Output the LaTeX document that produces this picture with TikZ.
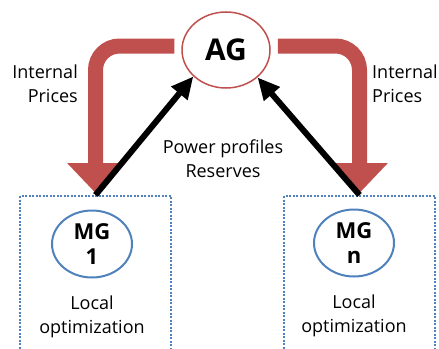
\documentclass[tikz,border=0pt]{standalone}
\usepackage{fontspec}
\setmainfont{Open Sans}
\usetikzlibrary{arrows.meta,shapes.geometric,positioning}
\definecolor{agred}{HTML}{C0504D}
\definecolor{mgblue}{HTML}{4F81BD}

\begin{document}
\begin{tikzpicture}[x=1pt,y=-1pt,
  txt/.style={font=\fontsize{18}{24}\selectfont,inner sep=0pt},
  agnode/.style={ellipse,draw=agred,line width=1.5pt,minimum width=88pt,minimum height=76pt,
    font=\bfseries\fontsize{30}{30}\selectfont},
  mgnode/.style={ellipse,draw=mgblue,line width=2pt,minimum width=80pt,minimum height=67pt,
    align=center,inner sep=0pt,font=\bfseries\fontsize{22}{25}\selectfont},
  mgbox/.style={draw=mgblue,line width=2pt,dash pattern=on 2pt off 1.5pt,
    minimum width=151pt,minimum height=160pt,anchor=north west},
  price/.style={draw=agred,line width=15pt,rounded corners=24pt,-{Triangle[length=30pt,width=55pt]}},
  report/.style={line width=6pt,-{Triangle[length=22pt,width=20pt]}}]
\useasboundingbox (0,0) rectangle (439,348);
\clip (0,0) rectangle (439,348);
% aggregator and microgrids
\node[agnode] (AG) at (226,50) {AG};
\node[mgbox] (box1) at (19,195) {};
\node[mgbox] (box2) at (283,195) {};
\node[mgnode] (mg1) at (92,244) {MG\\1};
\node[mgnode] (mgn) at (354,243) {MG\\n};
\node[txt,align=center,below=17pt of mg1] (opt1) {Local\\optimization};
\node[txt,align=center,below=17pt of mgn] (optn) {Local\\optimization};
% prices going down
\draw[price] ([yshift=4pt,xshift=-7pt]AG.west) -| ([yshift=2pt]box1.north);
\draw[price] ([yshift=4pt,xshift=7pt]AG.east) -| ([yshift=2pt]box2.north);
% profiles going up
\draw[report] (box1.north) -- (AG.219);
\draw[report] (box2.north) -- (AG.319);
\node[txt,align=right,anchor=east] (lprice) at (78,84) {Internal\\Prices};
\node[txt,align=left,anchor=west] (rprice) at (372,84) {Internal\\Prices};
\node[txt,align=center] (flow) at (223,159) {Power profiles\\Reserves};
\end{tikzpicture}
\end{document}
